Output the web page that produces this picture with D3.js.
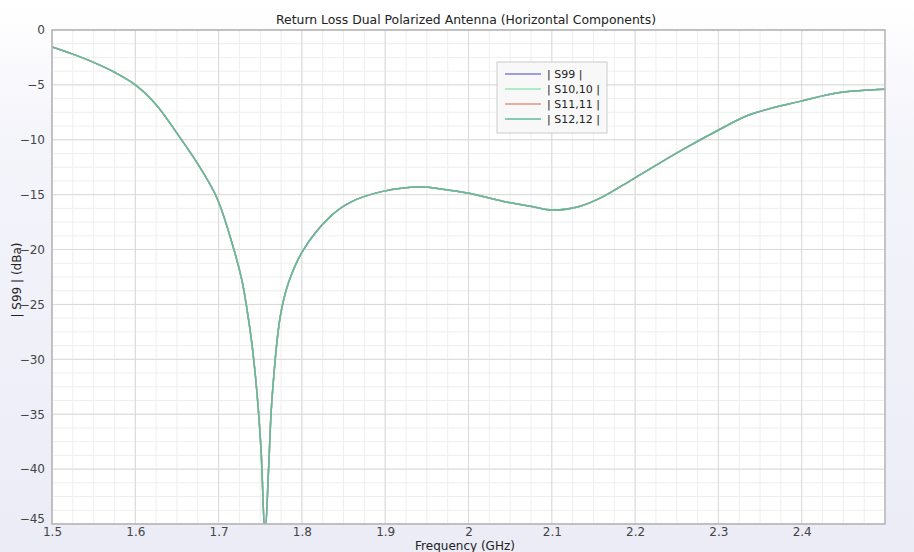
<!DOCTYPE html>
<html>
<head>
<meta charset="utf-8">
<script src="https://cdn.jsdelivr.net/npm/d3@7"></script>
<style>
  body { margin: 0; background: #fff; }
  svg { display: block; font-family: "DejaVu Sans", sans-serif; }
</style>
</head>
<body>
<svg id="chart" width="914" height="552"></svg>
<script>
// frequency samples (GHz)
const freq = [1.5, 1.525, 1.55, 1.575, 1.6, 1.625, 1.65, 1.675, 1.698, 1.718, 1.728,
  1.734, 1.74, 1.746, 1.751, 1.7557, 1.76, 1.764, 1.774, 1.784, 1.802, 1.834, 1.858,
  1.897, 1.942, 1.969, 2.002, 2.041, 2.074, 2.101, 2.134, 2.161, 2.197, 2.257, 2.298,
  2.338, 2.398, 2.446, 2.5];

// |S| in dB, all four ports overlap almost exactly
const s99 = [-1.55, -2.2, -2.95, -3.85, -5.0, -6.8, -9.4, -12.2, -15.3, -19.9, -22.8,
  -25.4, -28.6, -33.0, -38.3, -46.0, -40.0, -33.7, -26.1, -23.0, -20.0, -17.0, -15.7,
  -14.7, -14.3, -14.5, -14.9, -15.6, -16.05, -16.4, -16.05, -15.2, -13.6, -10.9, -9.2,
  -7.7, -6.5, -5.7, -5.4];
const s1010 = s99.slice();
const s1111 = s99.slice();
const s1212 = s99.slice();

const seriesNames = ["| S99 |", "| S10,10 |", "| S11,11 |", "| S12,12 |"];
const seriesValues = [s99, s1010, s1111, s1212];
const seriesColors = ["#7f7fdc", "#95e6b4", "#e8937f", "#5fbd9c"];

const xTicks = [1.5, 1.6, 1.7, 1.8, 1.9, 2, 2.1, 2.2, 2.3, 2.4];
const yTicks = [0, -5, -10, -15, -20, -25, -30, -35, -40, -45];

const svg = d3.select("#chart");
const width = 914, height = 552;
const plot = { left: 52, right: 885, top: 30, bottom: 524 };

// background: white at top fading to a pale lavender
const defs = svg.append("defs");
const grad = defs.append("linearGradient").attr("id", "bg")
  .attr("x1", 0).attr("y1", 0).attr("x2", 0).attr("y2", 1);
grad.append("stop").attr("offset", "0%").attr("stop-color", "#ffffff");
grad.append("stop").attr("offset", "25%").attr("stop-color", "#f4f4fb");
grad.append("stop").attr("offset", "100%").attr("stop-color", "#ececf7");
svg.append("rect").attr("width", width).attr("height", height).attr("fill", "url(#bg)");

defs.append("clipPath").attr("id", "clip").append("rect")
  .attr("x", plot.left).attr("y", plot.top)
  .attr("width", plot.right - plot.left).attr("height", plot.bottom - plot.top);

const x = d3.scaleLinear().domain([1.5, 2.5]).range([plot.left, plot.right]);
const y = d3.scaleLinear().domain([-45, 0]).range([plot.bottom, plot.top]);

svg.append("rect")
  .attr("x", plot.left).attr("y", plot.top)
  .attr("width", plot.right - plot.left).attr("height", plot.bottom - plot.top)
  .attr("fill", "#fff");

// minor grid
const grid = svg.append("g");
grid.selectAll(".mx").data(d3.range(1.5, 2.5001, 0.025)).join("line")
  .attr("x1", d => x(d)).attr("x2", d => x(d))
  .attr("y1", plot.top).attr("y2", plot.bottom)
  .attr("stroke", "#eeeeee").attr("stroke-width", 1);
grid.selectAll(".my").data(d3.range(-45, 0.001, 1.25)).join("line")
  .attr("y1", d => y(d)).attr("y2", d => y(d))
  .attr("x1", plot.left).attr("x2", plot.right)
  .attr("stroke", "#eeeeee").attr("stroke-width", 1);

// major grid
grid.selectAll(".Mx").data(xTicks).join("line")
  .attr("x1", d => x(d)).attr("x2", d => x(d))
  .attr("y1", plot.top).attr("y2", plot.bottom)
  .attr("stroke", "#d9d9d9").attr("stroke-width", 1);
grid.selectAll(".My").data(yTicks).join("line")
  .attr("y1", d => y(d)).attr("y2", d => y(d))
  .attr("x1", plot.left).attr("x2", plot.right)
  .attr("stroke", "#d9d9d9").attr("stroke-width", 1);

// curves
const line = d3.line()
  .x((d, i) => x(freq[i]))
  .y(d => y(d))
  .curve(d3.curveCatmullRom.alpha(0.5));

svg.append("g").attr("clip-path", "url(#clip)")
  .selectAll("path").data(seriesValues).join("path")
  .attr("d", d => line(d))
  .attr("fill", "none")
  .attr("stroke", (d, i) => seriesColors[i])
  .attr("stroke-width", 1.5);

// frame
svg.append("rect")
  .attr("x", plot.left).attr("y", plot.top)
  .attr("width", plot.right - plot.left).attr("height", plot.bottom - plot.top)
  .attr("fill", "none").attr("stroke", "#b4b4b4").attr("stroke-width", 1.5);

// axes
const xAxis = svg.append("g")
  .attr("transform", `translate(0,${plot.bottom})`)
  .call(d3.axisBottom(x).tickValues(xTicks).tickSize(0).tickPadding(3).tickFormat(d3.format("")));
const yAxis = svg.append("g")
  .attr("transform", `translate(${plot.left},0)`)
  .call(d3.axisLeft(y).tickValues(yTicks).tickSize(0).tickPadding(7).tickFormat(d3.format("")));
[xAxis, yAxis].forEach(a => {
  a.select(".domain").remove();
  a.selectAll("text").attr("font-size", 12).attr("fill", "#444")
    .attr("font-family", "DejaVu Sans, sans-serif");
});
yAxis.selectAll(".tick").filter(d => d === -45).select("text").attr("dy", "-0.1em");

// title and axis labels
svg.append("text").attr("x", 466).attr("y", 24)
  .attr("text-anchor", "middle").attr("font-size", 12.4).attr("fill", "#222")
  .text("Return Loss Dual Polarized Antenna (Horizontal Components)");
svg.append("text").attr("x", 465).attr("y", 550)
  .attr("text-anchor", "middle").attr("font-size", 12).attr("fill", "#222")
  .text("Frequency (GHz)");
svg.append("text")
  .attr("transform", `translate(21,280) rotate(-90)`)
  .attr("text-anchor", "middle").attr("font-size", 12).attr("fill", "#222")
  .text("| S99 | (dBa)");

// legend
const lg = svg.append("g").attr("transform", "translate(497,62)");
lg.append("rect").attr("width", 110).attr("height", 71)
  .attr("fill", "#f8f8f8").attr("stroke", "#cccccc");
const rows = lg.selectAll(".row").data(seriesNames).join("g")
  .attr("transform", (d, i) => `translate(0,${12 + i * 15})`);
rows.append("line").attr("x1", 8).attr("x2", 44).attr("y1", 0).attr("y2", 0)
  .attr("stroke", (d, i) => seriesColors[i]).attr("stroke-width", 1.5);
rows.append("text").attr("x", 50).attr("y", 4)
  .attr("font-size", 11).attr("fill", "#222").text(d => d);
</script>
</body>
</html>
